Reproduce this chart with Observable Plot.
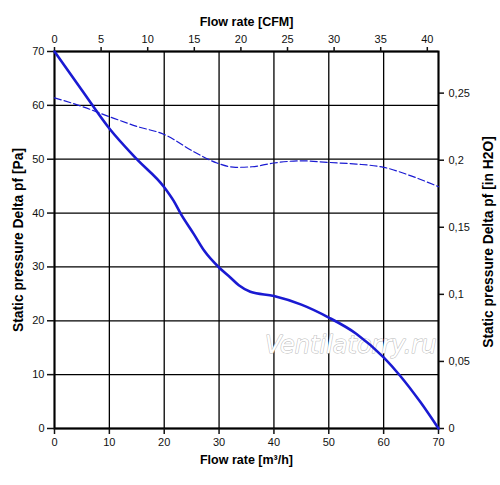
<!DOCTYPE html>
<html>
<head>
<meta charset="utf-8">
<script src="https://cdn.jsdelivr.net/npm/d3@7"></script>
<script src="https://cdn.jsdelivr.net/npm/@observablehq/plot@0.6"></script>
<style>
  html, body { margin: 0; padding: 0; background: #fff; }
  svg { display: block; }
</style>
</head>
<body>
<div id="chart"></div>
<script>
// Solid curve: static pressure [Pa] vs flow [m³/h]
const flow = [0, 5, 10, 15, 20, 21.7, 23, 25.4, 27.3, 30, 32, 33.6, 35.7, 40, 45, 50, 55, 60, 63, 66.7, 70];
const pressure = [70, 62.8, 55.7, 50, 44.8, 42.3, 39.9, 36.1, 33, 29.9, 28.1, 26.6, 25.4, 24.6, 23, 20.6, 17.6, 13.2, 9.8, 4.9, 0];
// Dashed curve
const flowDashed = [0, 5, 10, 15, 20, 25.4, 29.6, 33, 36, 40, 45, 50, 55, 60, 65, 70];
const pressureDashed = [61.4, 59.8, 57.9, 56.1, 54.6, 51.4, 49.3, 48.5, 48.6, 49.3, 49.7, 49.4, 49.1, 48.5, 46.9, 44.9];

const xTicks = [0, 10, 20, 30, 40, 50, 60, 70];
const yTicks = [0, 10, 20, 30, 40, 50, 60, 70];
const cfmTicks = [0, 5, 10, 15, 20, 25, 30, 35, 40];
const inH2OTicks = [0, 0.05, 0.1, 0.15, 0.2, 0.25];

const CFM = 1.699;      // m³/h per CFM
const INH2O = 249.089;  // Pa per inH2O

const solid = flow.map((f, i) => ({f, p: pressure[i]}));
const dashed = flowDashed.map((f, i) => ({f, p: pressureDashed[i]}));

const font = "Liberation Sans, Arial, sans-serif";
const blue = "#1a1ad2";

const chart = Plot.plot({
  width: 500,
  height: 485,
  marginLeft: 54,
  marginRight: 62,
  marginTop: 51,
  marginBottom: 57,
  style: {fontFamily: font, fontSize: "11px", color: "#111", background: "#fff"},
  x: {domain: [0, 70]},
  y: {domain: [0, 70]},
  marks: [
    Plot.gridX(xTicks, {stroke: "#000", strokeOpacity: 1, strokeWidth: 1.3}),
    Plot.gridY(yTicks, {stroke: "#000", strokeOpacity: 1, strokeWidth: 1.3}),
    Plot.frame({stroke: "#000", strokeWidth: 2}),
    Plot.axisX({anchor: "bottom", ticks: xTicks, tickSize: 6, tickPadding: 4, label: null, strokeWidth: 1.5, fontSize: 11}),
    Plot.axisX({anchor: "top", ticks: cfmTicks.map(c => c * CFM), tickFormat: d => String(Math.round(d / CFM)), tickSize: 5, tickPadding: 4, label: null, strokeWidth: 1.5, fontSize: 11}),
    Plot.axisY({anchor: "left", ticks: yTicks, tickSize: 7, tickPadding: 3, label: null, strokeWidth: 1.5, fontSize: 11}),
    Plot.axisY({anchor: "right", ticks: inH2OTicks.map(v => v * INH2O), tickFormat: d => String(+(d / INH2O).toFixed(2)).replace(".", ","), tickSize: 5, tickPadding: 5, label: null, strokeWidth: 1.5, fontSize: 11}),
    // watermark
    Plot.text(["Ventilatorry.ru"], {x: 54, y: 15.5, text: d => d, fontSize: 24, fontStyle: "italic", fill: "#fff", stroke: "#b8b8b8", strokeWidth: 1, fontFamily: "DejaVu Sans, sans-serif"}),
    Plot.line(dashed, {x: "f", y: "p", stroke: blue, strokeWidth: 1.2, strokeDasharray: "7,3", curve: "monotone-x"}),
    Plot.line(solid, {x: "f", y: "p", stroke: blue, strokeWidth: 2.6, curve: "monotone-x"}),
    // axis titles
    Plot.text(["Flow rate [CFM]"], {frameAnchor: "top", dy: -34, text: d => d, fontWeight: "bold", fontSize: 12.5, fill: "#000"}),
    Plot.text(["Flow rate [m³/h]"], {frameAnchor: "bottom", dy: 35, text: d => d, fontWeight: "bold", fontSize: 12.5, fill: "#000"}),
    Plot.text(["Static pressure Delta pf [Pa]"], {frameAnchor: "left", textAnchor: "middle", dx: -36, rotate: -90, text: d => d, fontWeight: "bold", fontSize: 13.8, fill: "#000"}),
    Plot.text(["Static pressure Delta pf [in H2O]"], {frameAnchor: "right", textAnchor: "middle", dx: 50, dy: 2, rotate: -90, text: d => d, fontWeight: "bold", fontSize: 13.8, fill: "#000"})
  ]
});
document.getElementById("chart").appendChild(chart);
</script>
</body>
</html>
